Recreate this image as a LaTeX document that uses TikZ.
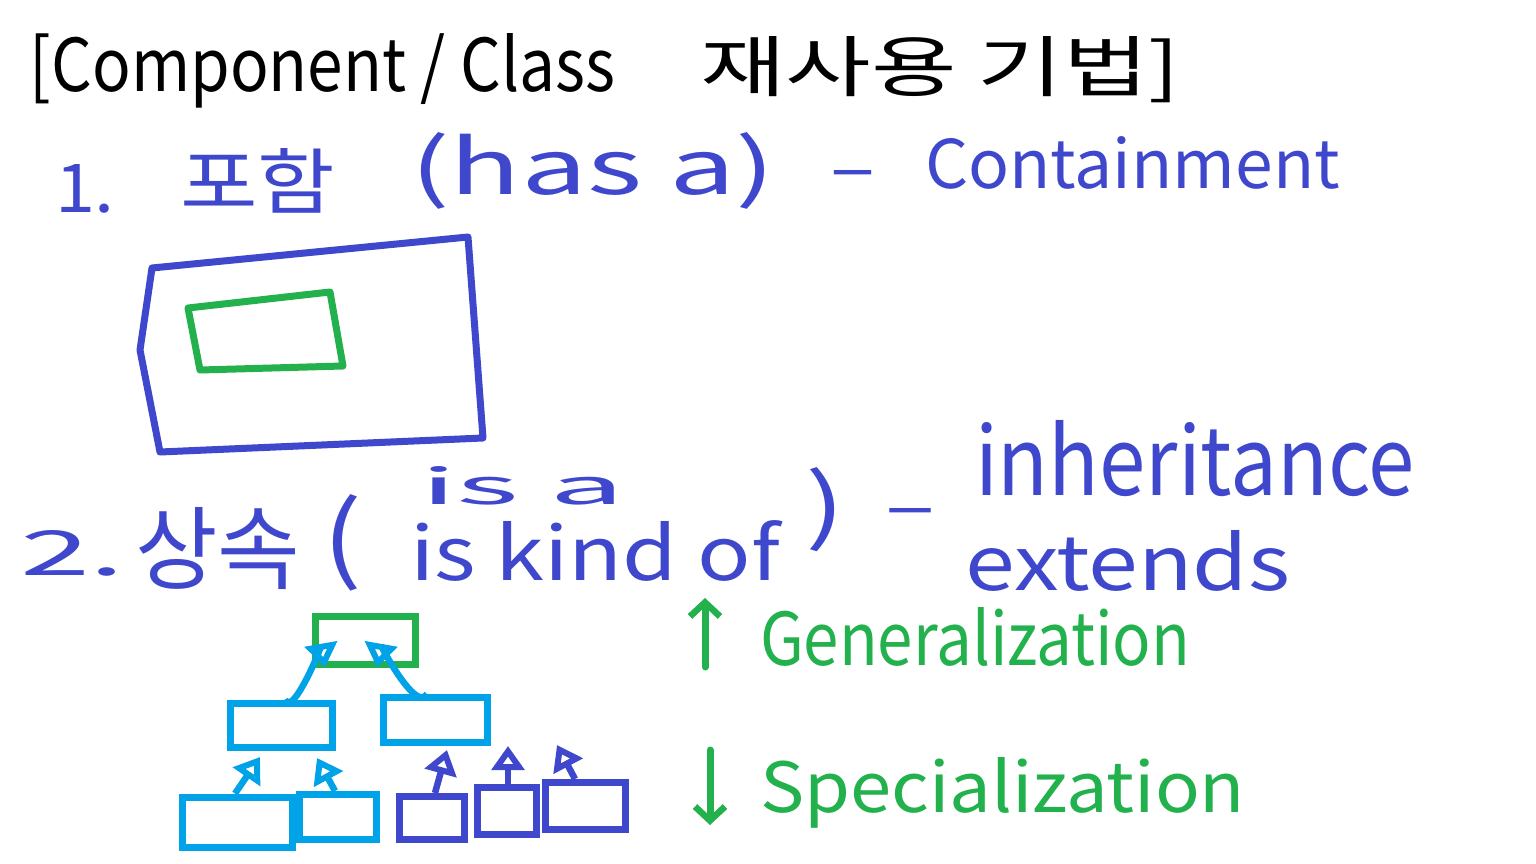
\documentclass[tikz,border=0pt]{standalone}
\usepackage{fontspec}
\usepackage{graphicx}
\setmainfont{Noto Sans CJK KR}
\usetikzlibrary{arrows.meta}
\definecolor{pblue}{HTML}{3F48CC}
\definecolor{pgreen}{HTML}{22B14C}
\definecolor{pcyan}{HTML}{00A2E8}
\newcommand\fitwh[3]{\resizebox{#1pt}{#2pt}{#3}}
\begin{document}
\begin{tikzpicture}[x=1pt,y=-1pt,
  txt/.style={anchor=base west,inner sep=0pt,outer sep=0pt},
  box/.style={draw,line width=7pt,inner sep=0pt,rectangle},
  gen/.style={line width=6.5pt,-{Triangle[open,length=24pt,width=32pt,line width=6.5pt]}},
  hand/.style={line width=7pt,line cap=round,line join=round}]
\useasboundingbox (0,0) rectangle (1536,864);
\fill[white] (0,0) rectangle (1536,864);
% title
\node[txt] (title1) at (30,92) {\fitwh{585}{58}{[Component / Class}};
\node[txt] (title2) at (700,92) {\fitwh{480}{55}{재사용 기법]}};
% line 1
\node[txt,text=pblue] (n1) at (55,212) {\fitwh{60}{48}{1.}};
\node[txt,text=pblue] (hanhas) at (180,208) {\fitwh{155}{60}{포함}};
\node[txt,text=pblue] (hasa) at (410,194) {\fitwh{365}{62}{(has a)}};
\node[txt,text=pblue] (dash1) at (830,192) {\fitwh{45}{22}{–}};
\node[txt,text=pblue] (cont) at (925,188) {\fitwh{415}{52}{Containment}};
% containment picture
\draw[hand,pblue] (152,268) -- (468,237) -- (483,438) -- (160,452) -- (140,350) -- cycle;
\draw[hand,pgreen] (188,308) -- (330,292) -- (343,366) -- (200,370) -- cycle;
% line 2
\node[txt,text=pblue] (n2) at (20,575) {\fitwh{105}{45}{2.}};
\node[txt,text=pblue] (sangsok) at (135,582) {\fitwh{165}{75}{상속}};
\node[txt,text=pblue] (lpar) at (322,572) {\fitwh{40}{78}{(}};
\node[txt,text=pblue] (isa) at (420,504) {\fitwh{205}{38}{is a}};
\node[txt,text=pblue] (iskind) at (410,580) {\fitwh{370}{60}{is kind of}};
\node[txt,text=pblue] (rpar) at (805,535) {\fitwh{40}{68}{)}};
\node[txt,text=pblue] (dash2) at (885,530) {\fitwh{50}{22}{–}};
\node[txt,text=pblue] (inh) at (975,495) {\fitwh{440}{75}{inheritance}};
\node[txt,text=pblue] (ext) at (965,590) {\fitwh{325}{60}{extends}};
% generalization / specialization
\coordinate (gu1) at (705,667);
\coordinate (gu2) at (705,598);
\draw[hand,pgreen,-{Straight Barb[length=14pt,width=30pt,line width=6.5pt]}] (gu1) -- (gu2);
\node[txt,text=pgreen] (genl) at (760,665) {\fitwh{430}{58}{Generalization}};
\coordinate (sd1) at (710,750);
\coordinate (sd2) at (710,825);
\draw[hand,pgreen,-{Straight Barb[length=14pt,width=30pt,line width=6.5pt]}] (sd1) -- (sd2);
\node[txt,text=pgreen] (spec) at (760,812) {\fitwh{485}{55}{Specialization}};
% hierarchy
\node[box,draw=pgreen,minimum width=100pt,minimum height=48pt] (top) at (365,640) {};
\node[box,draw=pcyan,minimum width=102pt,minimum height=44pt] (ml) at (281,725) {};
\node[box,draw=pcyan,minimum width=104pt,minimum height=45pt] (mr) at (435,720) {};
\node[box,draw=pcyan,minimum width=110pt,minimum height=50pt] (b1) at (237,822) {};
\node[box,draw=pcyan,minimum width=77pt,minimum height=45pt] (b2) at (338,817) {};
\node[box,draw=pblue,minimum width=65pt,minimum height=43pt] (b3) at (432,818) {};
\node[box,draw=pblue,minimum width=59pt,minimum height=47pt] (b4) at (507,811) {};
\node[box,draw=pblue,minimum width=80pt,minimum height=47pt] (b5) at (585,806) {};
\draw[gen,pcyan] ([xshift=4pt]ml.north) to[out=-70,in=100] ([xshift=-40pt]top.south);
\draw[gen,pcyan] ([xshift=-8pt]mr.north) to[out=-120,in=80] ([xshift=12pt]top.south);
\coordinate (t1) at (260,757);
\coordinate (t2) at (317,758);
\coordinate (t3) at (447,750);
\coordinate (t4) at (508,746);
\coordinate (t5) at (557,745);
\draw[gen,pcyan] ([xshift=-2pt]b1.north) -- (t1);
\draw[gen,pcyan] ([xshift=-3pt]b2.north) -- (t2);
\draw[gen,pblue] ([xshift=3pt]b3.north) -- (t3);
\draw[gen,pblue] ([xshift=1pt]b4.north) -- (t4);
\draw[gen,pblue] ([xshift=-10pt]b5.north) -- (t5);
\end{tikzpicture}
\end{document}
